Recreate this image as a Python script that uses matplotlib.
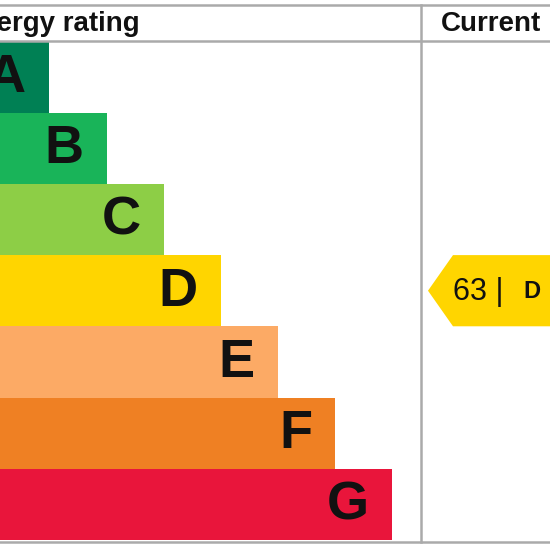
import matplotlib
matplotlib.use("Agg")
import matplotlib.pyplot as plt
from matplotlib.patches import Polygon

bands = ["A", "B", "C", "D", "E", "F", "G"]
band_colors = ["#008054", "#19b459", "#8dce46", "#ffd500", "#fcaa65", "#ef8023", "#e9153b"]
bar_widths = [149, 207, 264, 321, 378, 435, 492]  # relative bar lengths (from left x=-100)
current_score = 63
current_band = "D"
header_left = "Energy rating"
header_right = "Current"

fig = plt.figure(figsize=(5.5, 5.5), dpi=100)
ax = fig.add_axes([0, 0, 1, 1])
ax.set_xlim(0, 550)
ax.set_ylim(550, 0)
ax.axis("off")

font = "Liberation Sans"
top = 41.5
row_h = 71.2
left = -100

for i, (b, c, w) in enumerate(zip(bands, band_colors, bar_widths)):
    y0 = top + i * row_h
    ax.barh(y0 + row_h / 2, w, height=row_h, left=left, color=c, edgecolor="none", zorder=1)
    ax.text(left + w - 23, y0 + row_h / 2 + 1, b, ha="right", va="center",
            fontsize=39, fontweight="bold", family=font, color="#111111", zorder=3)

grey = "#aaaaaa"
ax.plot([0, 550], [5, 5], color=grey, lw=1.8, zorder=4)
ax.plot([0, 550], [41, 41], color=grey, lw=1.8, zorder=4)
ax.plot([0, 550], [541.5, 541.5], color=grey, lw=1.8, zorder=4)
ax.plot([421, 421], [5, 541.5], color=grey, lw=1.8, zorder=4)

ax.text(140, 24, header_left, ha="right", va="center", fontsize=20,
        fontweight="bold", family=font, color="#111111")
ax.text(441, 24, header_right, ha="left", va="center", fontsize=20,
        fontweight="bold", family=font, color="#111111")

idx = bands.index(current_band)
y0 = top + idx * row_h
y1 = y0 + row_h
ym = (y0 + y1) / 2
arrow = Polygon([(428, ym), (453, y0), (600, y0), (600, y1), (453, y1)],
                closed=True, facecolor=band_colors[idx], edgecolor="none", zorder=2)
ax.add_patch(arrow)
ax.text(453, ym + 1, f"{current_score} |", ha="left", va="center", fontsize=22,
        family=font, color="#111111", zorder=3)
ax.text(523, ym + 1, current_band, ha="left", va="center", fontsize=17,
        fontweight="bold", family=font, color="#111111", zorder=3)

fig.savefig("out.png", dpi=100, facecolor="white")
